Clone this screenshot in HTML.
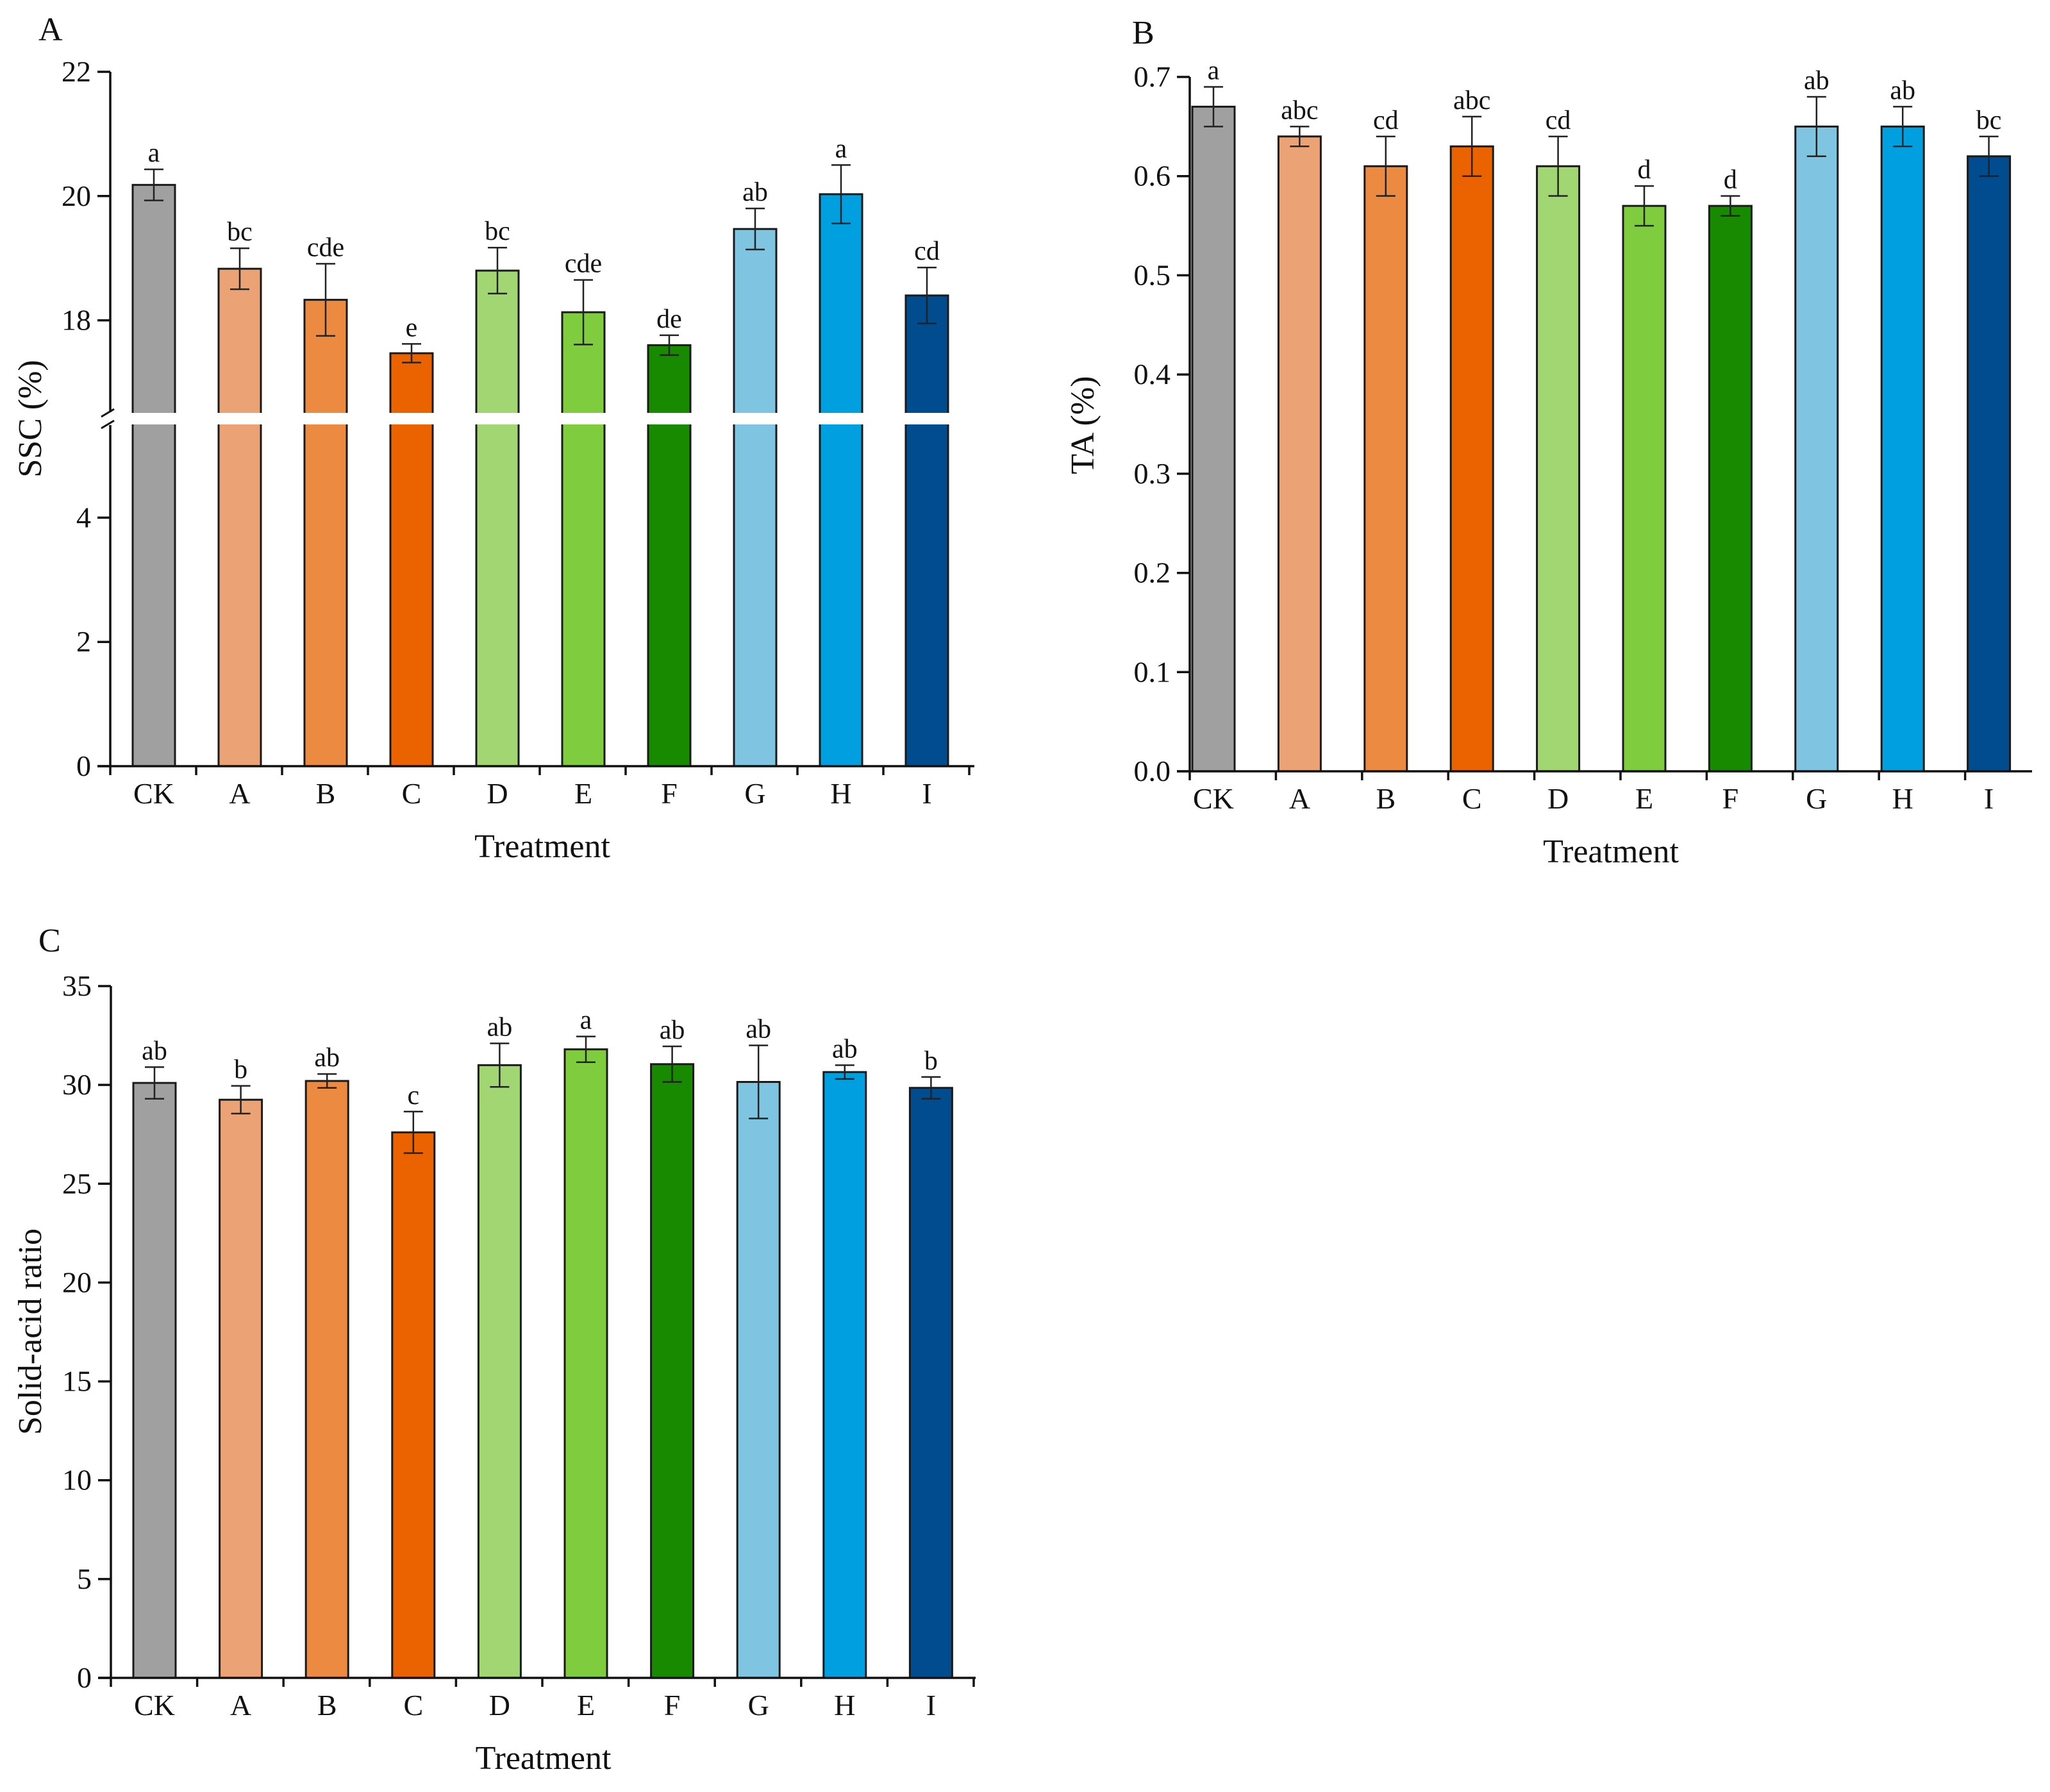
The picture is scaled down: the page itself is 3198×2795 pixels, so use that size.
<!DOCTYPE html>
<html><head><meta charset="utf-8"><style>
html,body{margin:0;padding:0;background:#fff;}
svg{display:block;font-family:"Liberation Serif",serif;}
</style></head><body>
<svg id="fig" width="3198" height="2795" viewBox="0 0 3198 2795" xmlns="http://www.w3.org/2000/svg"></svg>
<script>
const categories=["CK","A","B","C","D","E","F","G","H","I"];
const colors=["#a0a0a0","#eba274","#ec8a42","#eb6200","#a2d672","#80cc3f","#178a00","#7fc5e2","#009fe0","#004c8e"];
const sscValues=[20.18,18.83,18.33,17.47,18.8,18.13,17.6,19.47,20.03,18.4];
const sscErrors=[0.25,0.33,0.58,0.15,0.37,0.52,0.16,0.33,0.47,0.45];
const sscLetters=["a","bc","cde","e","bc","cde","de","ab","a","cd"];
const sscTicks=[0,2,4,18,20,22];
const taValues=[0.67,0.64,0.61,0.63,0.61,0.57,0.57,0.65,0.65,0.62];
const taErrors=[0.02,0.01,0.03,0.03,0.03,0.02,0.01,0.03,0.02,0.02];
const taLetters=["a","abc","cd","abc","cd","d","d","ab","ab","bc"];
const taTicks=["0.0","0.1","0.2","0.3","0.4","0.5","0.6","0.7"];
const ratioValues=[30.1,29.25,30.2,27.6,31.0,31.8,31.05,30.15,30.65,29.85];
const ratioErrors=[0.8,0.7,0.35,1.05,1.1,0.65,0.9,1.85,0.35,0.55];
const ratioLetters=["ab","b","ab","c","ab","a","ab","ab","ab","b"];
const ratioTicks=[0,5,10,15,20,25,30,35];

const NS="http://www.w3.org/2000/svg";
const svg=document.getElementById('fig');
function el(tag,attrs,parent,text){const e=document.createElementNS(NS,tag);for(const k in attrs)e.setAttribute(k,attrs[k]);if(text!==undefined)e.textContent=text;(parent||svg).appendChild(e);return e;}

function panel(cfg){
  const g=el('g',{});
  
  
  const x=i=>cfg.x0+cfg.first+i*cfg.step;
  const y=cfg.y;
  const bw=66;
  cfg.values.forEach((v,i)=>{
    const r=el('rect',{x:x(i)-bw/2,y:y(v),width:bw,height:cfg.base-y(v),fill:colors[i],stroke:'#1a1a1a','stroke-width':3},g);
    
    
  });
  if(cfg.breakY){
    const b=el('rect',{x:cfg.x0-25,y:cfg.breakY-9,width:cfg.xEnd-cfg.x0+25,height:18,fill:'#fff'},g);
    
    
    el('line',{x1:cfg.x0-14,y1:cfg.breakY-3,x2:cfg.x0+6,y2:cfg.breakY-15,stroke:'#111','stroke-width':3},g);
    el('line',{x1:cfg.x0-14,y1:cfg.breakY+15,x2:cfg.x0+6,y2:cfg.breakY+3,stroke:'#111','stroke-width':3},g);
  }
  cfg.values.forEach((v,i)=>{
    const e=cfg.errors[i];
    const eg=el('g',{stroke:'#222','stroke-width':2.5},g);
    
    
    el('line',{x1:x(i),x2:x(i),y1:y(v+e),y2:y(v-e)},eg);
    el('line',{x1:x(i)-15,x2:x(i)+15,y1:y(v+e),y2:y(v+e)},eg);
    el('line',{x1:x(i)-15,x2:x(i)+15,y1:y(v-e),y2:y(v-e)},eg);
    const t=el('text',{x:x(i),y:y(v+e)-12,'font-size':42,'text-anchor':'middle',fill:'#111'},g,cfg.letters[i]);
    
    
  });
  const ya=el('g',{},g);
  
  
  if(cfg.breakY){
    el('line',{x1:cfg.x0,y1:cfg.top,x2:cfg.x0,y2:cfg.breakY-10,stroke:'#111','stroke-width':3.5},ya);
    el('line',{x1:cfg.x0,y1:cfg.breakY+10,x2:cfg.x0,y2:cfg.base,stroke:'#111','stroke-width':3.5},ya);
  } else {
    el('line',{x1:cfg.x0,y1:cfg.top,x2:cfg.x0,y2:cfg.base,stroke:'#111','stroke-width':3.5},ya);
  }
  cfg.ticks.forEach(tv=>{
    const yy=y(parseFloat(tv));
    el('line',{x1:cfg.x0-20,x2:cfg.x0,y1:yy,y2:yy,stroke:'#111','stroke-width':3.5},ya);
    const t=el('text',{x:cfg.x0-30,y:yy+15,'font-size':46,'text-anchor':'end',fill:'#111'},ya,String(tv));
    
    
  });
  const xa=el('g',{},g);
  
  
  el('line',{x1:cfg.x0-20,x2:cfg.xEnd,y1:cfg.base,y2:cfg.base,stroke:'#111','stroke-width':3.5},xa);
  for(let i=0;i<=categories.length;i++){
    const xx=cfg.x0+i*cfg.step;
    el('line',{x1:xx,x2:xx,y1:cfg.base,y2:cfg.base+14,stroke:'#111','stroke-width':3.5},xa);
  }
  categories.forEach((c,i)=>{
    const t=el('text',{x:x(i),y:cfg.base+58,'font-size':46,'text-anchor':'middle',fill:'#111'},xa,c);
    
    
  });
  const xt=el('text',{x:(cfg.x0+cfg.xEnd)/2,y:cfg.base+142,'font-size':52,'text-anchor':'middle',fill:'#111'},g,'Treatment');
  
  
  const yt=el('text',{x:0,y:0,'font-size':52,'text-anchor':'middle',fill:'#111',transform:`translate(${cfg.ytx},${cfg.yty}) rotate(-90)`},g,cfg.ytitle);
  
  
  const pl=el('text',{x:cfg.lx,y:cfg.ly,'font-size':52,fill:'#111'},g,cfg.letter);
  
  
}

const aBase=1195,aUnit=96.9,aBreakY=653;
function yA(v){
  if(v<=10) return aBase-v*aUnit;
  return 112+(22-v)*aUnit;
}
panel({name:'panel-a-ssc',x0:172,xEnd:1520,first:68,step:134,base:aBase,top:112,y:yA,breakY:aBreakY,
  values:sscValues,errors:sscErrors,letters:sscLetters,ticks:sscTicks,ytitle:'SSC (%)',ytx:64,yty:653,letter:'A',lx:60,ly:63});

const bBase=1203,bTop=120;
panel({name:'panel-b-ta',x0:1856,xEnd:3170,first:37,step:134.4,base:bBase,top:bTop,y:v=>bBase-v/0.7*(bBase-bTop),
  values:taValues,errors:taErrors,letters:taLetters,ticks:taTicks,ytitle:'TA (%)',ytx:1706,yty:663,letter:'B',lx:1766,ly:68});

const cBase=2617,cTop=1538;
panel({name:'panel-c-ratio',x0:173,xEnd:1522,first:68,step:134.6,base:cBase,top:cTop,y:v=>cBase-v/35*(cBase-cTop),
  values:ratioValues,errors:ratioErrors,letters:ratioLetters,ticks:ratioTicks,ytitle:'Solid-acid ratio',ytx:64,yty:2077,letter:'C',lx:60,ly:1484});
</script>
</body></html>
